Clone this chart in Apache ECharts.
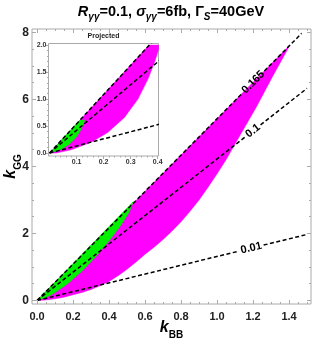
<!DOCTYPE html>
<html><head><meta charset="utf-8">
<script src="https://cdn.jsdelivr.net/npm/echarts@6/dist/echarts.min.js"></script>
<style>html,body{margin:0;padding:0;background:#fff}#c{width:313px;height:347px}</style>
</head><body><div id="c"></div>
<script>
// ---------- data ----------
const mainXLabels = [0, 0.2, 0.4, 0.6, 0.8, 1.0, 1.2, 1.4];
const mainYLabels = [0, 2, 4, 6, 8];
const insetXLabels = [0.1, 0.2, 0.3, 0.4];
const insetYLabels = [0, 0.5, 1.0, 1.5, 2.0];

// dashed contour lines (from origin to end point) and their labels
const lineNames = ['0.165', '0.1', '0.01'];
const lineEndX = [1.47, 1.50, 1.50];
const lineEndY = [7.97, 6.33, 1.97];
const labelX = [1.20, 1.20, 1.19];
const labelY = [6.52, 5.06, 1.57];

// main panel regions (polygon outlines)
const magentaX = [0, 1.405, 1.37, 1.31, 1.22, 1.13, 1.05, 1.0, 0.95, 0.9, 0.85, 0.8, 0.75, 0.7, 0.65, 0.6, 0.55, 0.5, 0.45, 0.4, 0.35, 0.3, 0.25, 0.2, 0.15, 0.1, 0.05];
const magentaY = [0, 7.62, 7.28, 6.70, 5.79, 4.95, 4.20, 3.78, 3.38, 3.00, 2.66, 2.35, 2.07, 1.82, 1.59, 1.38, 1.15, 0.93, 0.74, 0.57, 0.44, 0.33, 0.24, 0.17, 0.10, 0.05, 0.015];
const greenX = [0, 0.535, 0.51, 0.46, 0.40, 0.33, 0.25, 0.17, 0.09, 0.04];
const greenY = [0, 2.95, 2.62, 2.20, 1.78, 1.33, 0.88, 0.50, 0.20, 0.07];

// inset ("Projected") regions
const insetMagentaX = [0, 0.368, 0.403, 0.404, 0.388, 0.364, 0.327, 0.277, 0.215, 0.154, 0.08, 0.024];
const insetMagentaY = [0, 2.0, 2.0, 1.93, 1.68, 1.37, 1.00, 0.66, 0.38, 0.20, 0.06, 0.0];
const insetGreenX = [0, 0.112, 0.13, 0.118, 0.098, 0.072, 0.04];
const insetGreenY = [0, 0.61, 0.61, 0.45, 0.29, 0.16, 0.06];

// ---------- styling ----------
const FRAME = '#aaaaaa';
const MAGENTA = '#ff00ff';
const GREEN = '#00f000';
const FONT = 'Liberation Sans';

function range(a, b, step, skipEvery) {
  const out = [];
  const n = Math.round((b - a) / step);
  for (let k = 0; k <= n; k++) {
    if (skipEvery && k % skipEvery === 0) continue;
    out.push(+(a + k * step).toFixed(4));
  }
  return out;
}

function axis(gridIndex, position, min, max, ticks, len, inside, labels, labelStyle, z) {
  return {
    type: 'value', gridIndex, position, min, max, z: z,
    splitLine: { show: false },
    axisLine: { show: false, onZero: false },
    axisTick: { show: true, inside, length: len, customValues: ticks, lineStyle: { color: FRAME, width: 1 } },
    axisLabel: labels ? Object.assign({ show: true, customValues: labels }, labelStyle) : { show: false }
  };
}

const MX = [-0.028, 1.522], MY = [-0.105, 8.1];
const IX = [-0.004, 0.403], IY = [-0.055, 2.03];
const mainGridRect = { left: 32, top: 29, width: 279, height: 275, outerBoundsMode: 'none', containLabel: false };
const insetGridRect = { left: 48.5, top: 43.5, width: 110, height: 112.5, outerBoundsMode: 'none', containLabel: false };

const xLab = { fontSize: 11, fontWeight: 'bold', fontFamily: FONT, color: '#222', margin: 7, formatter: v => v.toFixed(1) };
const yLab = { fontSize: 12, fontWeight: 'bold', fontFamily: FONT, color: '#222', margin: 3, formatter: v => String(Math.round(v)) };
const ixLab = { fontSize: 7, fontWeight: 'bold', fontFamily: FONT, color: '#333', margin: 3, formatter: v => v.toFixed(1) };
const iyLab = { fontSize: 7, fontWeight: 'bold', fontFamily: FONT, color: '#333', margin: 2, formatter: v => v.toFixed(1) };

const mainXMinor = range(0, 1.5, 0.05, 4);
const mainYMinor = range(0, 8, 0.5, 4);
const insetXMinor = range(0, 0.4, 0.02, 5);
const insetYMinor = range(0, 2, 0.1, 5);

const nameRich = {
  k: { fontSize: 16, fontStyle: 'italic', fontWeight: 'bold', fontFamily: FONT, color: '#000', lineHeight: 18, verticalAlign: 'top' },
  s: { fontSize: 10, fontWeight: 'bold', fontFamily: FONT, color: '#000', padding: [10, 0, 0, 0], verticalAlign: 'top' }
};

const xAxes = [
  Object.assign(axis(0, 'bottom', MX[0], MX[1], mainXLabels, 4, true, mainXLabels, xLab, 5), {
    name: '{k|k}{s|BB}', nameLocation: 'middle', nameGap: 16, nameMoveOverlap: false, nameTextStyle: { rich: nameRich }
  }),
  axis(0, 'top', MX[0], MX[1], mainXLabels, 4, true, null, null, 5),
  axis(1, 'bottom', MX[0], MX[1], mainXMinor, 2, true, null, null, 5),
  axis(1, 'top', MX[0], MX[1], mainXMinor, 2, true, null, null, 5),
  axis(2, 'bottom', IX[0], IX[1], insetXLabels, 3, false, insetXLabels, ixLab, 11),
  axis(3, 'bottom', IX[0], IX[1], insetXMinor, 1.5, false, null, null, 11)
];
const yAxes = [
  Object.assign(axis(0, 'left', MY[0], MY[1], mainYLabels, 4, true, mainYLabels, yLab, 5), {
    name: '{k|k}{s|GG}', nameLocation: 'middle', nameGap: 9, nameRotate: 90, nameMoveOverlap: false, nameTextStyle: { rich: nameRich }
  }),
  axis(0, 'right', MY[0], MY[1], mainYLabels, 4, true, null, null, 5),
  axis(1, 'left', MY[0], MY[1], mainYMinor, 2, true, null, null, 5),
  axis(1, 'right', MY[0], MY[1], mainYMinor, 2, true, null, null, 5),
  axis(2, 'left', IY[0], IY[1], insetYLabels, 3, false, insetYLabels, iyLab, 11),
  axis(3, 'left', IY[0], IY[1], insetYMinor, 1.5, false, null, null, 11)
];

function polygon(xs, ys, color, ai, z) {
  return {
    type: 'custom', xAxisIndex: ai, yAxisIndex: ai, z, silent: true, clip: true,
    data: [[xs[1], ys[1]]],
    renderItem(params, api) {
      const pts = xs.map((x, i) => api.coord([x, ys[i]]));
      return { type: 'polygon', shape: { points: pts }, style: { fill: color, stroke: color, lineWidth: 0.5 } };
    }
  };
}

const LABEL_SIZE = 11;
const measureCtx = document.createElement('canvas').getContext('2d');
measureCtx.font = 'bold ' + LABEL_SIZE + 'px ' + FONT;

function dashedLines(ai, withLabels, z) {
  return {
    type: 'custom', xAxisIndex: ai, yAxisIndex: ai, z, silent: true, clip: true,
    data: lineNames.map((n, i) => [lineEndX[i], lineEndY[i]]),
    renderItem(params, api) {
      const i = params.dataIndex;
      const p0 = api.coord([0, 0]);
      const p1 = api.coord([lineEndX[i], lineEndY[i]]);
      const ls = { stroke: '#000', lineWidth: 1.5, lineDash: [4, 2.5], fill: null };
      if (!withLabels) {
        return { type: 'line', shape: { x1: p0[0], y1: p0[1], x2: p1[0], y2: p1[1] }, style: ls };
      }
      const dx = p1[0] - p0[0], dy = p1[1] - p0[1];
      const L = Math.hypot(dx, dy), ux = dx / L, uy = dy / L;
      const pl = api.coord([labelX[i], labelY[i]]);
      const t = (pl[0] - p0[0]) * ux + (pl[1] - p0[1]) * uy;
      const c = [p0[0] + ux * t, p0[1] + uy * t];
      const half = measureCtx.measureText(lineNames[i]).width / 2 + 2;
      return {
        type: 'group',
        children: [
          { type: 'line', shape: { x1: p0[0], y1: p0[1], x2: c[0] - ux * half, y2: c[1] - uy * half }, style: ls },
          { type: 'line', shape: { x1: c[0] + ux * half, y1: c[1] + uy * half, x2: p1[0], y2: p1[1] }, style: ls },
          { type: 'text', x: c[0], y: c[1], rotation: Math.atan2(-uy, ux),
            style: { text: lineNames[i], align: 'center', verticalAlign: 'middle',
                     fontSize: LABEL_SIZE, fontWeight: 'bold', fontFamily: FONT, fill: '#000' } }
        ]
      };
    }
  };
}

const titleRich = {
  i: { fontSize: 14.5, fontStyle: 'italic', fontWeight: 'bold', fontFamily: FONT, fill: '#000', lineHeight: 16, verticalAlign: 'top' },
  n: { fontSize: 14.5, fontWeight: 'bold', fontFamily: FONT, fill: '#000', lineHeight: 16, verticalAlign: 'top' },
  s: { fontSize: 10, fontStyle: 'italic', fontWeight: 'bold', fontFamily: FONT, fill: '#000', padding: [8, 0, 0, 0], verticalAlign: 'top' }
};

const chart = echarts.init(document.getElementById('c'), null, { renderer: 'canvas' });
chart.setOption({
  animation: false,
  backgroundColor: '#fff',
  grid: [
    Object.assign({ show: true, borderColor: FRAME, borderWidth: 1, backgroundColor: 'transparent', z: 0 }, mainGridRect),
    Object.assign({ show: false }, mainGridRect),
    Object.assign({ show: true, borderColor: FRAME, borderWidth: 1, backgroundColor: '#fff', z: 10 }, insetGridRect),
    Object.assign({ show: false, z: 10 }, insetGridRect)
  ],
  xAxis: xAxes,
  yAxis: yAxes,
  graphic: [
    { type: 'text', x: 171, y: 4, z: 100,
      style: { text: '{i|R}{s|γγ}{n|=0.1, }{i|σ}{s|γγ}{n|=6fb, Γ}{s|S}{n|=40GeV}', rich: titleRich, align: 'center', verticalAlign: 'top' } },
    { type: 'text', x: 103.5, y: 36, z: 100,
      style: { text: 'Projected', align: 'center', verticalAlign: 'middle', fontSize: 7, fontWeight: 'bold', fontFamily: FONT, fill: '#222' } }
  ],
  series: [
    polygon(magentaX, magentaY, MAGENTA, 0, 2),
    polygon(greenX, greenY, GREEN, 0, 3),
    dashedLines(0, true, 4),
    polygon(insetMagentaX, insetMagentaY, MAGENTA, 4, 12),
    polygon(insetGreenX, insetGreenY, GREEN, 4, 13),
    dashedLines(4, false, 14)
  ]
});
</script>
</body></html>
